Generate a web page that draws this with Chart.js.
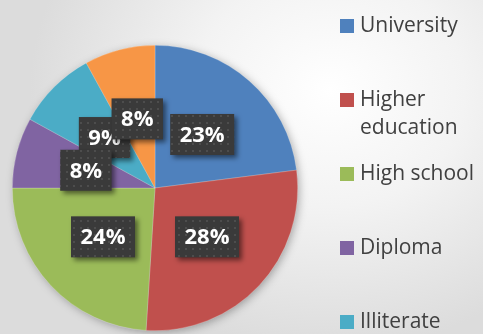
<!DOCTYPE html>
<html>
<head>
<meta charset="utf-8">
<script src="https://cdn.jsdelivr.net/npm/chart.js@4/dist/chart.umd.min.js"></script>
<style>
  html, body { margin: 0; padding: 0; }
  body {
    width: 483px; height: 334px; overflow: hidden;
    background: radial-gradient(ellipse 300px 260px at 330px 90px, #ffffff 0%, #f3f3f3 45%, #dcdcdc 100%);
  }
  #wrap { position: relative; width: 483px; height: 334px; }
</style>
</head>
<body>
<div id="wrap"><canvas id="eduPie" width="483" height="334"></canvas></div>
<script>
// data
const categories = ["University", "Higher education", "High school", "Diploma", "Illiterate", "Other"];
const shares = [23, 28, 24, 8, 9, 8];
const sliceColors = ["#4F81BD", "#C0504D", "#9BBB59", "#8064A2", "#4BACC6", "#F79646"];

// labels get drawn in this order (later ones sit on top)
const labelDrawOrder = [4, 0, 1, 2, 3, 5];

function dotPattern(ctx) {
  const c = document.createElement("canvas");
  c.width = 7; c.height = 7;
  const p = c.getContext("2d");
  p.fillStyle = "#3a3a3a";
  p.fillRect(0, 0, 7, 7);
  p.fillStyle = "#4d4d4d";
  p.fillRect(3, 3, 2, 2);
  return ctx.createPattern(c, "repeat");
}

const pieShadow = {
  id: "pieShadow",
  beforeDatasetsDraw(chart) {
    const arc = chart.getDatasetMeta(0).data[0];
    if (!arc) return;
    const ctx = chart.ctx;
    ctx.save();
    ctx.shadowColor = "rgba(0,0,0,0.35)";
    ctx.shadowBlur = 10;
    ctx.shadowOffsetX = 2;
    ctx.shadowOffsetY = 2;
    ctx.fillStyle = "#888";
    ctx.beginPath();
    ctx.arc(arc.x, arc.y, arc.outerRadius - 1, 0, Math.PI * 2);
    ctx.fill();
    ctx.restore();
  }
};

const boxLabels = {
  id: "boxLabels",
  afterDatasetsDraw(chart) {
    const ctx = chart.ctx;
    const meta = chart.getDatasetMeta(0);
    const pat = dotPattern(ctx);
    ctx.save();
    ctx.font = "bold 22px 'Open Sans'";
    ctx.textAlign = "center";
    ctx.textBaseline = "middle";
    labelDrawOrder.forEach(function(i) {
      const pos = meta.data[i].tooltipPosition();
      const txt = shares[i] + "%";
      const w = ctx.measureText(txt).width + 19;
      const h = 41;
      ctx.save();
      ctx.shadowColor = "rgba(0,0,0,0.5)";
      ctx.shadowBlur = 5;
      ctx.shadowOffsetX = 3;
      ctx.shadowOffsetY = 3;
      ctx.fillStyle = pat;
      ctx.fillRect(pos.x - w / 2, pos.y - h / 2, w, h);
      ctx.restore();
      ctx.fillStyle = "#ffffff";
      ctx.fillText(txt, pos.x, pos.y + 1);
    });
    ctx.restore();
  }
};

const sideLegend = {
  id: "sideLegend",
  afterDraw(chart) {
    const ctx = chart.ctx;
    ctx.save();
    ctx.font = "21px 'Open Sans'";
    ctx.textBaseline = "middle";
    ctx.textAlign = "left";
    const maxW = 120;
    categories.forEach(function(name, i) {
      const y = 26 + i * 74;
      ctx.fillStyle = sliceColors[i];
      ctx.fillRect(340, y - 7, 14, 14);
      // word wrap
      const words = name.split(" ");
      let lines = [], line = "";
      words.forEach(function(wd) {
        const test = line ? line + " " + wd : wd;
        if (ctx.measureText(test).width > maxW && line) { lines.push(line); line = wd; }
        else line = test;
      });
      lines.push(line);
      ctx.fillStyle = "#404040";
      lines.forEach(function(l, k) { ctx.fillText(l, 360, y + k * 28); });
    });
    ctx.restore();
  }
};

const ctx = document.getElementById("eduPie").getContext("2d");
const myChart = new Chart(ctx, {
  type: "pie",
  data: {
    labels: categories,
    datasets: [{
      data: shares,
      backgroundColor: sliceColors,
      borderColor: "rgba(255,255,255,0.35)",
      borderWidth: 0.6
    }]
  },
  options: {
    responsive: false,
    animation: false,
    layout: { padding: { left: 12, top: 45, right: 185, bottom: 3 } },
    plugins: {
      legend: { display: false },
      tooltip: { enabled: false }
    }
  },
  plugins: [pieShadow, boxLabels, sideLegend]
});
</script>
</body>
</html>
